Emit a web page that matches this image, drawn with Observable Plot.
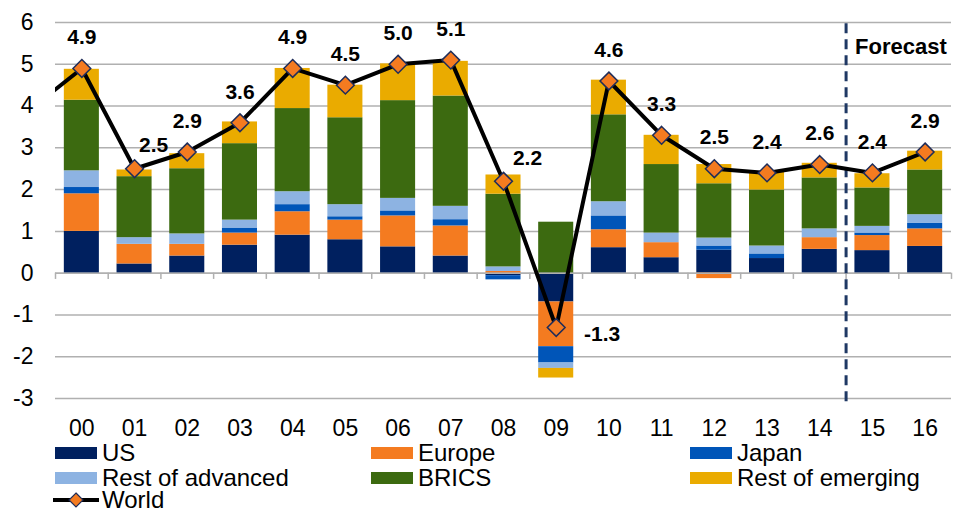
<!DOCTYPE html>
<html>
<head>
<meta charset="utf-8">
<script src="https://cdn.jsdelivr.net/npm/d3@7"></script>
<script src="https://cdn.jsdelivr.net/npm/@observablehq/plot@0.6"></script>
<style>
  html, body { margin: 0; padding: 0; background: #fff; }
  #wrap { position: relative; width: 957px; height: 509px; overflow: hidden; font-family: 'Liberation Sans', Arial, sans-serif; }
  .lg { position: absolute; display: flex; align-items: center; height: 26px; font-size: 24px; line-height: 26px; color: #000; white-space: nowrap; }
  .sw { width: 42px; height: 12px; margin-right: 5px; flex: none; }
</style>
</head>
<body>
<div id="wrap"><div id="chart"></div><div id="legend"></div></div>
<script>
// ---- Data ----
const years = ["00","01","02","03","04","05","06","07","08","09","10","11","12","13","14","15","16"];
const seriesNames = ["US","Europe","Japan","Rest of advanced","BRICS","Rest of emerging"];
const seriesColors = ["#00205f","#f47b20","#0055b8","#8db3e2","#3c6a10","#eaab00"];
const us      = [1.00,0.22,0.41,0.67,0.91,0.80,0.63,0.41,-0.06,-0.69,0.61,0.37,0.55,0.35,0.57,0.54,0.64];
const europe  = [0.90,0.47,0.28,0.29,0.56,0.47,0.74,0.72,0.04,-1.07,0.43,0.36,-0.13,0.00,0.28,0.36,0.42];
const japan   = [0.15,0.00,0.00,0.12,0.17,0.08,0.12,0.15,-0.10,-0.39,0.33,-0.03,0.10,0.11,0.00,0.06,0.13];
const restAdv = [0.40,0.16,0.25,0.19,0.31,0.29,0.30,0.32,0.11,-0.13,0.34,0.23,0.19,0.19,0.21,0.16,0.21];
const brics   = [1.69,1.46,1.56,1.83,1.99,2.08,2.34,2.64,1.74,1.22,2.08,1.64,1.30,1.34,1.22,0.92,1.07];
const restEm  = [0.74,0.16,0.36,0.52,0.96,0.78,0.88,0.83,0.46,-0.23,0.83,0.70,0.46,0.43,0.35,0.34,0.45];
const world   = [4.9,2.5,2.9,3.6,4.9,4.5,5.0,5.1,2.2,-1.3,4.6,3.3,2.5,2.4,2.6,2.4,2.9];
const priorYear = "99";     // previous year, only its line segment enters the chart
const priorWorld = 3.9;
const forecastAfter = "14";
const forecastLabel = "Forecast";
const yTicks = [-3,-2,-1,0,1,2,3,4,5,6];

// ---- Build tables ----
const seriesValues = [us, europe, japan, restAdv, brics, restEm];
const rows = [];
seriesNames.forEach((s, k) => years.forEach((yr, i) => rows.push({year: yr, series: s, value: seriesValues[k][i]})));
const worldRows = years.map((yr, i) => ({year: yr, value: world[i]}));
const lineRows = [{year: priorYear, value: priorWorld}, ...worldRows];
const allYears = [priorYear, ...years];

const W = 957, H = 440, mL = 55, mR = 6, mT = 22, mB = 42;
const step = (W - mR - mL) / years.length;

const special = {"01": [19, -23], "08": [24, -23], "09": [46, 7]};
const labelFont = {fontSize: 21, fontWeight: "bold", fill: "#000"};
const labelMarks = [
  Plot.text(worldRows.filter(d => !special[d.year]), {x: "year", y: "value", text: d => d.value.toFixed(1), dy: -31, ...labelFont}),
  ...Object.entries(special).map(([yr, [dx, dy]]) =>
    Plot.text(worldRows.filter(d => d.year === yr), {x: "year", y: "value", text: d => d.value.toFixed(1), dx, dy, ...labelFont}))
];

const chart = Plot.plot({
  width: W, height: H,
  marginLeft: mL, marginRight: mR, marginTop: mT, marginBottom: mB,
  style: {fontFamily: "'Liberation Sans', Arial, sans-serif", fontSize: "22px", color: "#000", background: "#fff", overflow: "visible"},
  x: {type: "band", domain: allYears, range: [mL - step, W - mR], paddingInner: 0.335, paddingOuter: 0.1675, round: false, axis: null, label: null},
  y: {domain: [-3, 6], axis: null, label: null},
  color: {domain: seriesNames, range: seriesColors},
  marks: [
    Plot.gridY(yTicks, {stroke: "#b0b0b0", strokeOpacity: 1, strokeWidth: 1.5}),
    Plot.axisY({ticks: yTicks, tickSize: 0, tickPadding: 22, tickFormat: d => String(d), fontSize: 23, label: null}),
    Plot.axisX({ticks: years, tickSize: 0, tickPadding: 21, fontSize: 23, label: null}),
    Plot.barY(rows, {x: "year", y: "value", fill: "series"}),
    Plot.ruleY([0], {stroke: "#b0b0b0", strokeWidth: 1.5}),
    Plot.ruleX(allYears, {x: d => d, y1: 0, y2: -0.15, dx: step / 2, stroke: "#b0b0b0", strokeWidth: 1.5}),
    Plot.ruleX([forecastAfter], {x: d => d, y1: 5.97, y2: -3.22, dx: step / 2, stroke: "#1f3864", strokeWidth: 3, strokeDasharray: "10,6"}),
    Plot.line(lineRows, {x: "year", y: "value", stroke: "#000", strokeWidth: 4, clip: true}),
    Plot.dot(worldRows, {x: "year", y: "value", symbol: "diamond2", r: 8, fill: "#f47b20", stroke: "#1f2d5a", strokeWidth: 1.5}),
    ...labelMarks,
    Plot.text([forecastLabel], {x: () => forecastAfter, y: () => 5.42, text: d => d, dx: step / 2 + 9, textAnchor: "start", fontSize: 22, fontWeight: "bold", fill: "#000"})
  ]
});
document.getElementById("chart").appendChild(chart);

// ---- Legend ----
const legend = document.getElementById("legend");
const colX = [55, 371, 690];
const rowY = [453, 478, 500];
seriesNames.forEach((s, i) => {
  const el = document.createElement("div");
  el.className = "lg";
  el.style.left = colX[i % 3] + "px";
  el.style.top = (rowY[Math.floor(i / 3)] - 13) + "px";
  el.innerHTML = `<span class="sw" style="background:${seriesColors[i]}"></span><span>${s}</span>`;
  legend.appendChild(el);
});
const wl = document.createElement("div");
wl.className = "lg";
wl.style.left = "53px";
wl.style.top = (rowY[2] - 13) + "px";
wl.innerHTML = `<svg width="46" height="18" style="margin-right:3px;flex:none"><line x1="0" y1="9" x2="46" y2="9" stroke="#000" stroke-width="4"/><path d="M23 2 L30 9 L23 16 L16 9 Z" fill="#f47b20" stroke="#1f2d5a" stroke-width="1.2"/></svg><span>World</span>`;
legend.appendChild(wl);
</script>
</body>
</html>
